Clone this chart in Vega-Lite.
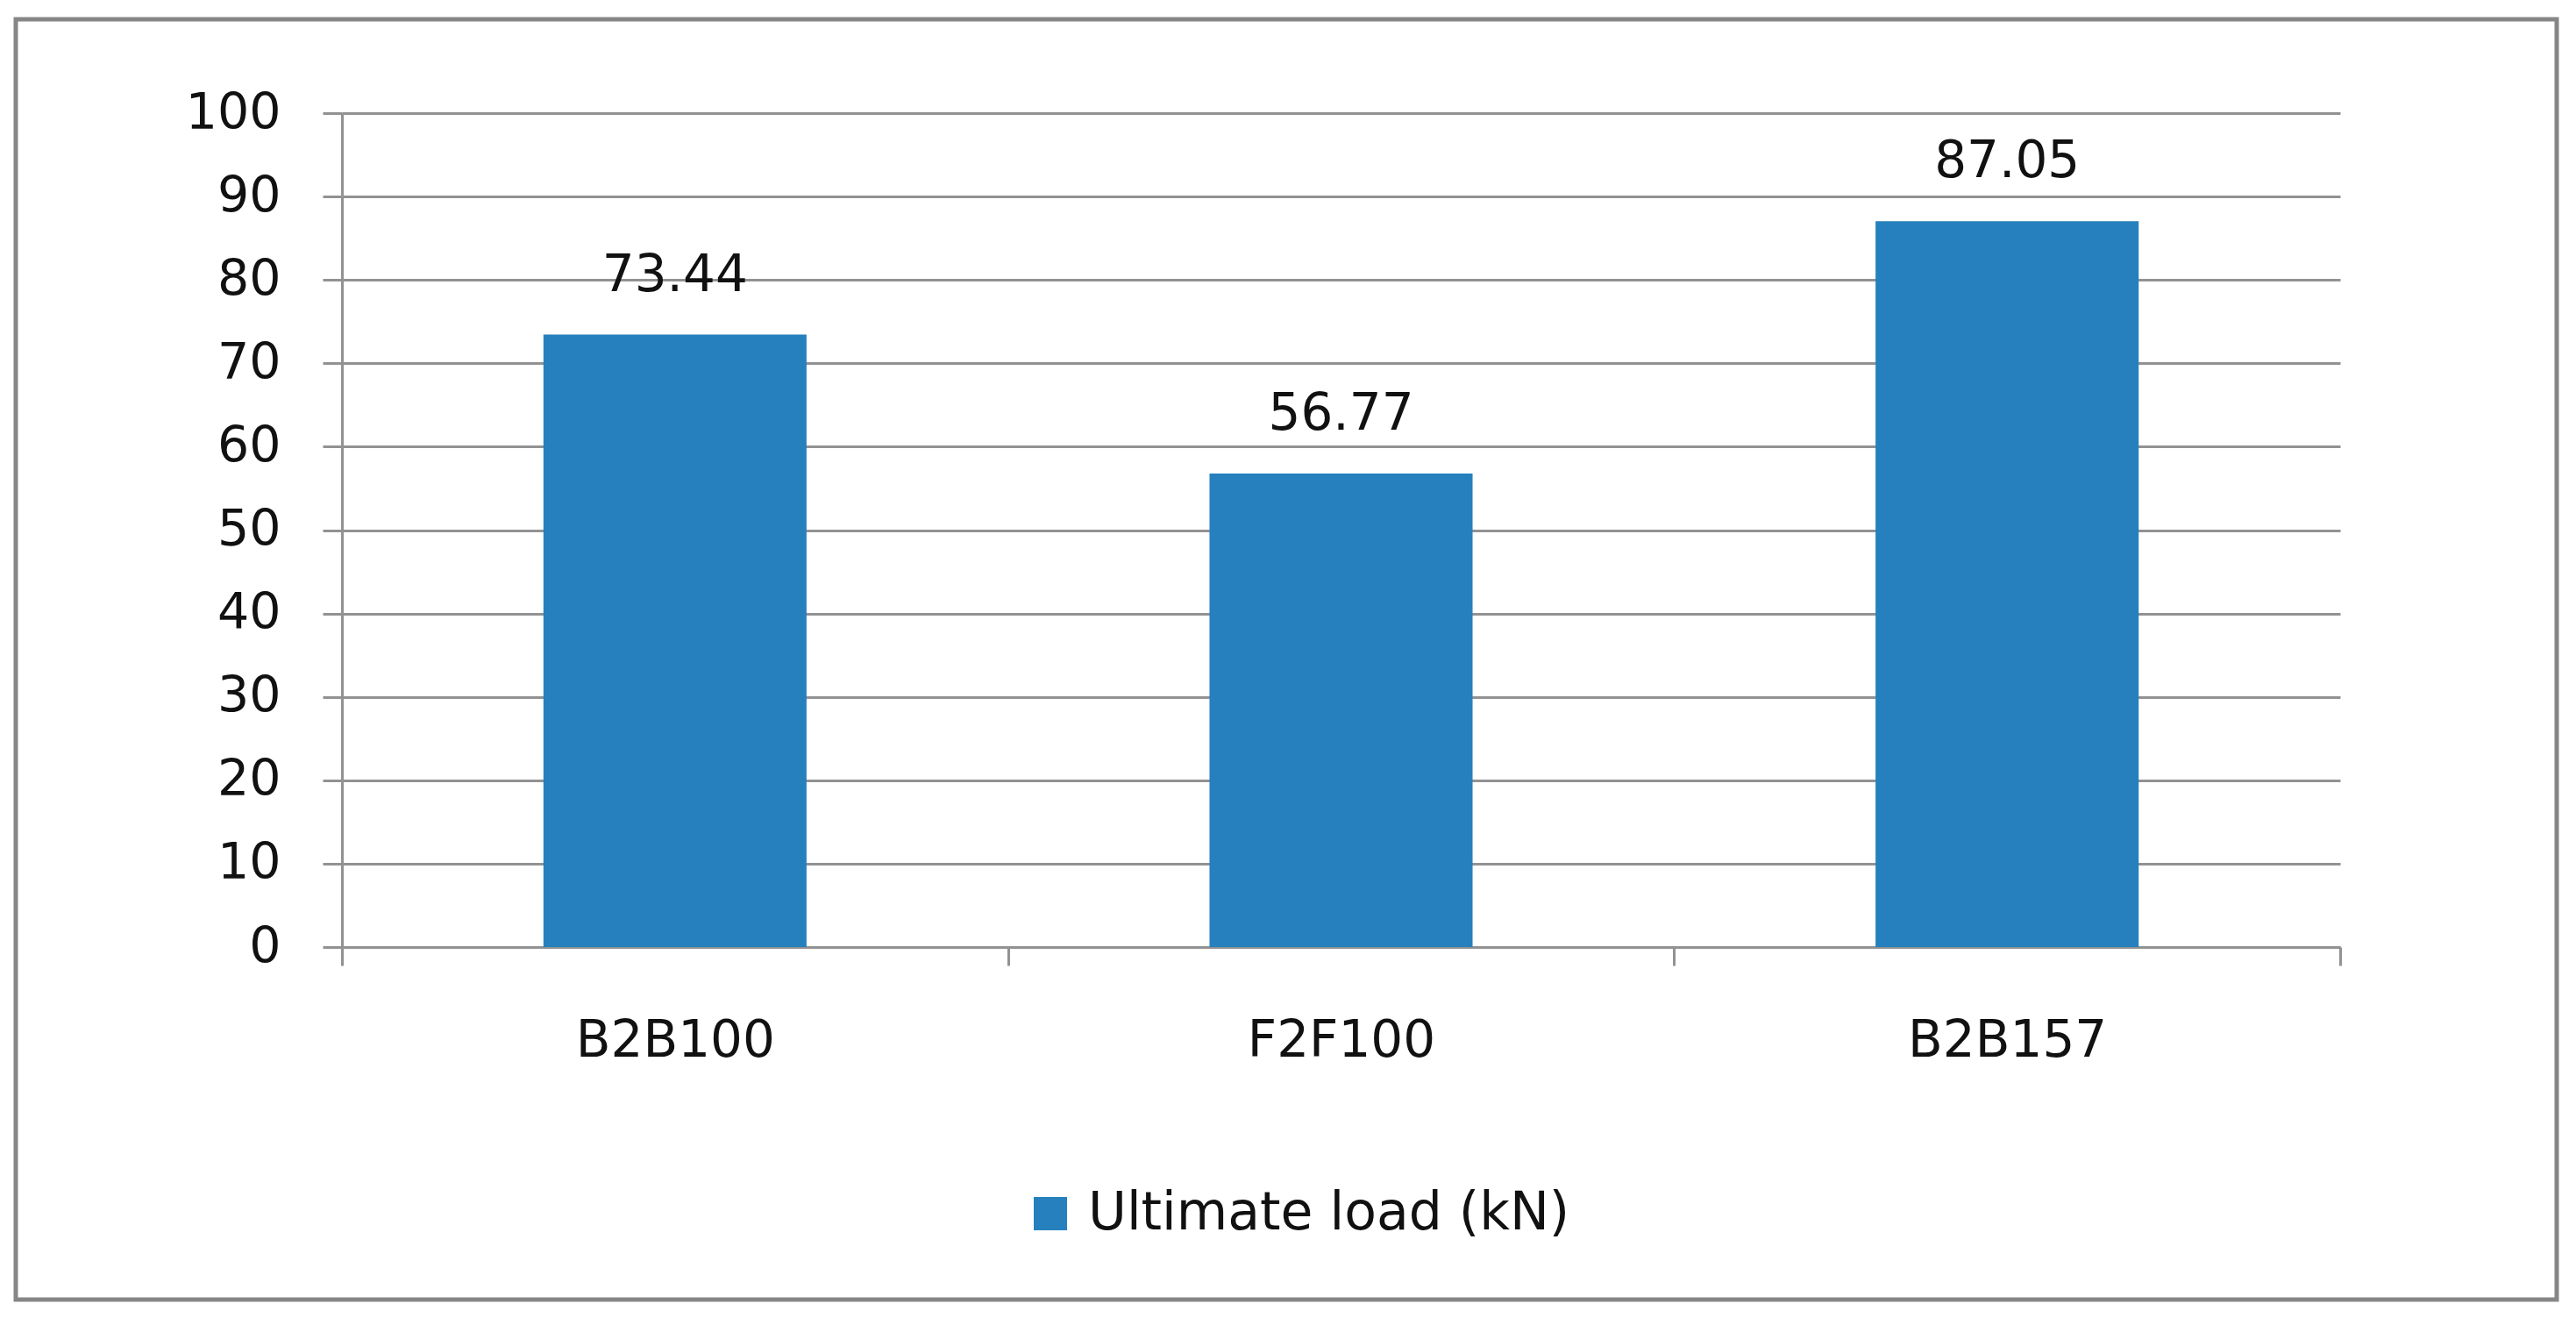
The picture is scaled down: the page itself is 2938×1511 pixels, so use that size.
{
  "$schema": "https://vega.github.io/schema/vega-lite/v6.json",
  "width": 2898,
  "height": 1460,
  "padding": {"left": 18, "top": 22, "right": 20, "bottom": 27},
  "background": "white",
  "data": {
    "values": [
      {"specimen": "B2B100", "load": 73.44, "series": "Ultimate load (kN)"},
      {"specimen": "F2F100", "load": 56.77, "series": "Ultimate load (kN)"},
      {"specimen": "B2B157", "load": 87.05, "series": "Ultimate load (kN)"}
    ]
  },
  "encoding": {
    "x": {
      "field": "specimen",
      "type": "nominal",
      "sort": ["B2B100", "F2F100", "B2B157"],
      "scale": {"range": [372, 2651], "paddingInner": 0, "paddingOuter": 0},
      "axis": {
        "title": null,
        "orient": "bottom",
        "offset": -402,
        "labelAngle": 0,
        "tickBand": "extent",
        "tickSize": 21,
        "tickWidth": 3,
        "tickColor": "#929292",
        "domainColor": "#929292",
        "domainWidth": 3,
        "grid": false,
        "labelFont": "DejaVu Sans",
        "labelFontSize": 58,
        "labelColor": "#111111",
        "labelPadding": 57,
        "labelLimit": 1000
      }
    },
    "y": {
      "field": "load",
      "type": "quantitative",
      "scale": {"domain": [0, 100], "range": [1058, 107], "nice": false},
      "axis": {
        "title": null,
        "offset": -372,
        "values": [0, 10, 20, 30, 40, 50, 60, 70, 80, 90, 100],
        "tickSize": 22,
        "tickWidth": 3,
        "tickColor": "#929292",
        "domainColor": "#929292",
        "domainWidth": 3,
        "grid": true,
        "gridColor": "#929292",
        "gridWidth": 3,
        "labelFont": "DejaVu Sans",
        "labelFontSize": 57,
        "labelColor": "#111111",
        "labelPadding": 48
      }
    }
  },
  "layer": [
    {
      "mark": {"type": "bar", "width": {"band": 0.395}},
      "encoding": {
        "color": {
          "field": "series",
          "type": "nominal",
          "scale": {"range": ["#2580BD"]},
          "legend": {
            "title": null,
            "orient": "none",
            "legendX": 1150,
            "legendY": 1332,
            "padding": 0,
            "symbolType": "square",
            "symbolSize": 1444,
            "symbolStrokeWidth": 0,
            "labelFont": "DejaVu Sans",
            "labelFontSize": 60,
            "labelColor": "#111111",
            "labelOffset": 13,
            "labelLimit": 1000
          }
        }
      }
    },
    {
      "mark": {"type": "text", "baseline": "alphabetic", "align": "center", "dy": -50, "font": "DejaVu Sans", "fontSize": 58, "color": "#111111"},
      "encoding": {
        "text": {"field": "load", "type": "quantitative", "format": ".2f"}
      }
    }
  ],
  "config": {
    "view": {"stroke": "#868686", "strokeWidth": 5}
  }
}
